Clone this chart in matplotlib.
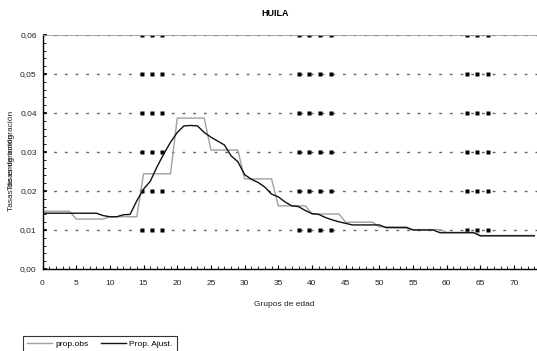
import matplotlib
matplotlib.use("Agg")
import matplotlib.pyplot as plt
from matplotlib.ticker import MultipleLocator, FuncFormatter
from matplotlib.lines import Line2D

plt.rcParams['font.family'] = ['Liberation Sans', 'DejaVu Sans']

title = "HUILA"
xlabel = "Grupos de edad"
ylabels = ["Tasas de emigración", "Tasas de inmigración"]
legend_labels = ["prop.obs", "Prop. Ajust."]

ages = list(range(0, 74))

prop_obs = [
    0.0148, 0.0148, 0.0148, 0.0148, 0.0148,
    0.0128, 0.0128, 0.0128, 0.0128, 0.0128,
    0.0134, 0.0134, 0.0134, 0.0134, 0.0134,
    0.0244, 0.0244, 0.0244, 0.0244, 0.0244,
    0.0387, 0.0387, 0.0387, 0.0387, 0.0387,
    0.0305, 0.0305, 0.0305, 0.0305, 0.0305,
    0.0231, 0.0231, 0.0231, 0.0231, 0.0231,
    0.0162, 0.0162, 0.0162, 0.0162, 0.0162,
    0.0141, 0.0141, 0.0141, 0.0141, 0.0141,
    0.0120, 0.0120, 0.0120, 0.0120, 0.0120,
    0.0108, 0.0108, 0.0108, 0.0108, 0.0108,
    0.0101, 0.0101, 0.0101, 0.0101, 0.0101,
    0.0094, 0.0094, 0.0094, 0.0094, 0.0094,
    0.0086, 0.0086, 0.0086, 0.0086, 0.0086,
    0.0086, 0.0086, 0.0086, 0.0086,
]

prop_ajust = [
    0.0143, 0.0143, 0.0143, 0.0143, 0.0143, 0.0143, 0.0143, 0.0143, 0.0143, 0.0137,
    0.0134, 0.0134, 0.0139, 0.0140, 0.0175, 0.0205, 0.0225, 0.0262, 0.0295, 0.0325,
    0.0350, 0.0367, 0.0368, 0.0367, 0.0350, 0.0338, 0.0328, 0.0318, 0.0290, 0.0275,
    0.0242, 0.0230, 0.0222, 0.0210, 0.0192, 0.0185, 0.0172, 0.0162, 0.0160, 0.0150,
    0.0142, 0.0140, 0.0132, 0.0126, 0.0121, 0.0117, 0.0113, 0.0113, 0.0113, 0.0113,
    0.0113, 0.0106, 0.0106, 0.0106, 0.0106, 0.0100, 0.0100, 0.0100, 0.0100, 0.0093,
    0.0093, 0.0093, 0.0093, 0.0093, 0.0093, 0.0085, 0.0085, 0.0085, 0.0085, 0.0085,
    0.0085, 0.0085, 0.0085, 0.0085,
]

grid_levels = [0.01, 0.02, 0.03, 0.04, 0.05, 0.06]
# darker dash artefacts on the gridlines (style only)
dark_dash_x = [14.7, 16.2, 17.8, 38.0, 39.6, 41.2, 42.8, 63.0, 64.5, 66.2]

W, H = 537, 351
fig = plt.figure(figsize=(W / 100, H / 100), dpi=100)
left_px, right_px, top_px, bottom_px = 42.5, 537, 35, 269
ax = fig.add_axes([left_px / W, 1 - bottom_px / H, (right_px - left_px) / W, (bottom_px - top_px) / H])

for lv in grid_levels:
    ax.axhline(lv, color='#666666', lw=1.0, ls=(0, (2.0, 5.7)), zorder=1)
    ax.plot(dark_dash_x, [lv] * len(dark_dash_x), ls='none', marker='s', ms=2.3,
            mec='none', mfc='black', zorder=1.5)

ax.plot(ages, prop_obs, color='#a0a0a0', lw=1.0, zorder=2)
ax.plot(ages, prop_ajust, color='#111111', lw=1.0, zorder=3)

ax.set_xlim(0, 73.4)
ax.set_ylim(0, 0.06)

ax.xaxis.set_major_locator(MultipleLocator(5))
ax.xaxis.set_minor_locator(MultipleLocator(1))
ax.yaxis.set_major_locator(MultipleLocator(0.01))
ax.yaxis.set_minor_locator(MultipleLocator(0.002))
ax.yaxis.set_major_formatter(FuncFormatter(lambda v, p: f"{v:.2f}".replace('.', ',')))
ax.xaxis.set_major_formatter(FuncFormatter(lambda v, p: f"{int(round(v))}"))

ax.tick_params(axis='both', which='both', direction='in', colors='black', labelsize=6,
               labelcolor='#222222')
ax.tick_params(axis='x', which='major', length=3, width=0.8, pad=8)
ax.tick_params(axis='x', which='minor', length=2, width=0.6)
ax.tick_params(axis='y', which='major', length=3, width=1.2, pad=4.2)
ax.tick_params(axis='y', which='minor', length=2, width=0.6)

ax.spines['right'].set_visible(False)
ax.spines['top'].set_color('#9a9a9a')
ax.spines['top'].set_linewidth(0.6)
ax.spines['left'].set_linewidth(1.0)
ax.spines['bottom'].set_linewidth(1.0)

fig.text(275 / W, 1 - 14 / H, title, ha='center', va='center', fontsize=6.5, fontweight='bold')
fig.text(284 / W, 1 - 305 / H, xlabel, ha='center', va='center', fontsize=6, color='#222222')
fig.text(12 / W, 1 - 172 / H, ylabels[0], ha='center', va='center', rotation=90, fontsize=6, color='#222222')
fig.text(12 / W, 1 - 150 / H, ylabels[1], ha='center', va='center', rotation=90, fontsize=6, color='#222222')

handles = [Line2D([], [], color='#a0a0a0', lw=1.0), Line2D([], [], color='#111111', lw=1.0)]
leg = fig.legend(handles, legend_labels, loc='upper left', bbox_to_anchor=(22.7 / W, 1 - 336 / H),
                 ncol=2, fontsize=6, frameon=True, fancybox=False, borderpad=0.5,
                 handlelength=3.0, handletextpad=0.4, columnspacing=1.5, borderaxespad=0)
leg.get_frame().set_edgecolor('black')
leg.get_frame().set_linewidth(0.8)

fig.savefig('out.png', dpi=100)
